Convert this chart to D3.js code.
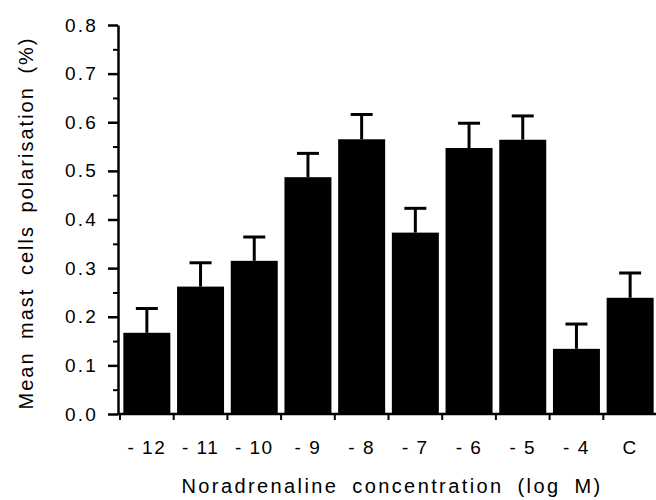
<!DOCTYPE html>
<html>
<head>
<meta charset="utf-8">
<script src="https://cdn.jsdelivr.net/npm/d3@7"></script>
<style>
  html, body { margin: 0; padding: 0; background: #fff; }
  svg { display: block; }
  text { font-family: "Liberation Sans", Arial, Helvetica, sans-serif; fill: #000; }
</style>
</head>
<body>
<svg id="chart" width="656" height="500"></svg>
<script>
// ---- data ----
const categories = ["- 12", "- 11", "- 10", "- 9", "- 8", "- 7", "- 6", "- 5", "- 4", "C"];
const means      = [0.167, 0.262, 0.315, 0.487, 0.565, 0.373, 0.547, 0.564, 0.134, 0.239];
const errors     = [0.050, 0.049, 0.049, 0.049, 0.051, 0.050, 0.051, 0.049, 0.051, 0.051];
const yTicks     = [0, 0.1, 0.2, 0.3, 0.4, 0.5, 0.6, 0.7, 0.8];
const yMinorTicks = [0.05, 0.15, 0.25, 0.35, 0.45, 0.55, 0.65, 0.75];
const xTitle = "Noradrenaline concentration (log M)";
const yTitle = "Mean mast cells polarisation (%)";

const data = categories.map((c, i) => ({ cat: c, mean: means[i], err: errors[i] }));

const svg = d3.select("#chart");
svg.append("rect").attr("width", 656).attr("height", 500).attr("fill", "#fff");

const y = d3.scaleLinear().domain([0, 0.8]).range([414, 25]);
const x = d3.scaleBand().domain(categories).range([120, 657])
  .paddingInner(0.125).paddingOuter(0.0625);

// bars
svg.append("g").selectAll("rect").data(data).join("rect")
  .attr("x", d => x(d.cat))
  .attr("y", d => y(d.mean))
  .attr("width", x.bandwidth())
  .attr("height", d => y(0) - y(d.mean))
  .attr("fill", "#000");

// error bars (upper only)
const eb = svg.append("g").attr("stroke", "#000");
eb.selectAll("line.stem").data(data).join("line").attr("class", "stem")
  .attr("x1", d => x(d.cat) + x.bandwidth() / 2)
  .attr("x2", d => x(d.cat) + x.bandwidth() / 2)
  .attr("y1", d => y(d.mean))
  .attr("y2", d => y(d.mean + d.err))
  .attr("stroke-width", 3);
eb.selectAll("line.cap").data(data).join("line").attr("class", "cap")
  .attr("x1", d => x(d.cat) + x.bandwidth() / 2 - 11)
  .attr("x2", d => x(d.cat) + x.bandwidth() / 2 + 11)
  .attr("y1", d => y(d.mean + d.err))
  .attr("y2", d => y(d.mean + d.err))
  .attr("stroke-width", 3);

// y axis minor ticks
const yMinor = svg.append("g").attr("transform", "translate(118,0)")
  .call(d3.axisLeft(y).tickValues(yMinorTicks).tickSize(5).tickSizeOuter(0).tickFormat(""));
yMinor.select(".domain").remove();
yMinor.selectAll("line").attr("stroke-width", 2);

// y axis major
const yAx = svg.append("g").attr("transform", "translate(118,0)")
  .call(d3.axisLeft(y).tickValues(yTicks).tickSize(10).tickSizeOuter(0)
    .tickPadding(10).tickFormat(d3.format(".1f")));
yAx.select(".domain").attr("stroke-width", 2.5);
yAx.selectAll("line").attr("stroke-width", 2.5);
yAx.selectAll("text").attr("font-size", 19).attr("letter-spacing", 2.2)
  .style("font-family", "'Liberation Sans', Arial, sans-serif");

// x axis
const xAx = svg.append("g").attr("transform", "translate(0,414)")
  .call(d3.axisBottom(x).tickSize(0).tickPadding(27).tickSizeOuter(0));
xAx.select(".domain").attr("d", "M118,0H656").attr("stroke-width", 2.5);
xAx.selectAll("text").attr("font-size", 19).attr("letter-spacing", 1.5)
  .style("font-family", "'Liberation Sans', Arial, sans-serif");
// tick marks at category boundaries
const step = x.step();
svg.append("g").selectAll("line").data(categories).join("line")
  .attr("x1", d => x(d) - step * x.paddingInner() / 2)
  .attr("x2", d => x(d) - step * x.paddingInner() / 2)
  .attr("y1", 414).attr("y2", 420)
  .attr("stroke", "#000").attr("stroke-width", 2);

// titles
svg.append("text")
  .attr("x", 392).attr("y", 493)
  .attr("text-anchor", "middle")
  .attr("font-size", 20)
  .attr("letter-spacing", 2.4)
  .attr("word-spacing", 6)
  .text(xTitle);

svg.append("text")
  .attr("transform", "translate(33,223) rotate(-90)")
  .attr("text-anchor", "middle")
  .attr("font-size", 20)
  .attr("letter-spacing", 2.0)
  .attr("word-spacing", 5)
  .text(yTitle);
</script>
</body>
</html>
